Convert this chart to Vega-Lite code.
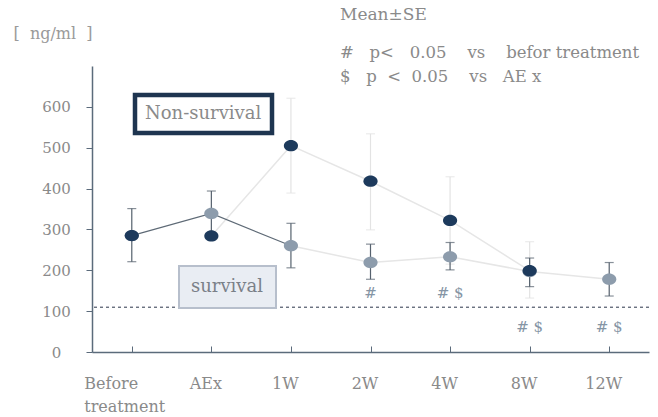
{
  "$schema": "https://vega.github.io/schema/vega-lite/v6.json",
  "width": 557,
  "height": 286,
  "autosize": {"type": "none"},
  "padding": {"left": 92, "top": 66, "right": 9, "bottom": 65},
  "background": "white",
  "config": {
    "view": {"stroke": null},
    "font": "DejaVu Serif",
    "axis": {"grid": false}
  },
  "title": {
    "text": "Mean±SE",
    "subtitle": ["#\u00a0\u00a0\u00a0p<\u00a0\u00a0\u00a00.05\u00a0\u00a0\u00a0\u00a0vs\u00a0\u00a0\u00a0\u00a0befor\u00a0treatment", "$\u00a0\u00a0\u00a0p\u00a0\u00a0<\u00a0\u00a00.05\u00a0\u00a0\u00a0\u00a0vs\u00a0\u00a0\u00a0AE\u00a0x"],
    "anchor": "start",
    "frame": "group",
    "orient": "top",
    "offset": 0,
    "dx": 248,
    "dy": 61,
    "font": "DejaVu Serif",
    "fontSize": 17,
    "fontWeight": "normal",
    "color": "#8a8a8a",
    "subtitleFont": "DejaVu Serif",
    "subtitleFontSize": 16.5,
    "subtitleColor": "#8a8a8a",
    "subtitlePadding": 21,
    "subtitleLineHeight": 24
  },
  "datasets": {
    "series": [
      {"time": "Before treatment", "t": 0, "group": "survival", "mean": 285, "lo": 221, "hi": 351},
      {"time": "AEx", "t": 1, "group": "survival", "mean": 339, "lo": 284, "hi": 394},
      {"time": "1W", "t": 2, "group": "survival", "mean": 260, "lo": 206, "hi": 315},
      {"time": "2W", "t": 3, "group": "survival", "mean": 219, "lo": 178, "hi": 264},
      {"time": "4W", "t": 4, "group": "survival", "mean": 233, "lo": 201, "hi": 268},
      {"time": "8W", "t": 5, "group": "survival", "mean": 197, "lo": 160, "hi": 230},
      {"time": "12W", "t": 6, "group": "survival", "mean": 178, "lo": 137, "hi": 219},
      {"time": "Before treatment", "t": 0, "group": "Non-survival", "mean": 285, "lo": null, "hi": null},
      {"time": "AEx", "t": 1, "group": "Non-survival", "mean": 284, "lo": null, "hi": null},
      {"time": "1W", "t": 2, "group": "Non-survival", "mean": 505, "lo": 389, "hi": 621},
      {"time": "2W", "t": 3, "group": "Non-survival", "mean": 418, "lo": 299, "hi": 534},
      {"time": "4W", "t": 4, "group": "Non-survival", "mean": 322, "lo": 215, "hi": 429},
      {"time": "8W", "t": 5, "group": "Non-survival", "mean": 199, "lo": 132, "hi": 270}
    ],
    "sig": [
      {"time": "2W", "label": "#", "level": 144},
      {"time": "4W", "label": "#  $", "level": 144},
      {"time": "8W", "label": "#  $", "level": 62},
      {"time": "12W", "label": "#  $", "level": 62}
    ]
  },
  "data": {"name": "series"},
  "encoding": {
    "x": {
      "field": "time",
      "type": "ordinal",
      "scale": {"type": "point", "domain": ["Before treatment", "AEx", "1W", "2W", "4W", "8W", "12W"], "padding": 0.5},
      "axis": {
        "title": null,
        "domainColor": "#5b6b7b",
        "domainWidth": 1.5,
        "tickColor": "#5b6b7b",
        "tickSize": -6,
        "tickWidth": 1,
        "labelFont": "DejaVu Serif",
        "labelFontSize": 16,
        "labelColor": "#8a8a8a",
        "labelPadding": 29,
        "labelAngle": 0,
        "labelLineHeight": 23,
        "labelExpr": "datum.label == 'Before treatment' ? ['Before', 'treatment'] : datum.label",
        "labelAlign": {"condition": {"test": "datum.value == 'Before treatment'", "value": "left"}, "value": "center"},
        "labelOffset": {"condition": {"test": "datum.value == 'Before treatment'", "value": -48}, "value": -6}
      }
    }
  },
  "layer": [
    {
      "mark": {"type": "rule", "color": "#6b7580", "strokeDash": [3, 3], "strokeWidth": 1},
      "encoding": {
        "x": null,
        "y": {"datum": 109, "type": "quantitative"}
      }
    },
    {
      "transform": [{"filter": {"field": "group", "equal": "Non-survival"}}, {"filter": {"field": "t", "gte": 1}}],
      "mark": {"type": "line", "color": "#e6e6e6", "strokeWidth": 1.5},
      "encoding": {"y": {"field": "mean", "type": "quantitative"}, "order": {"field": "t"}}
    },
    {
      "transform": [{"filter": {"field": "group", "equal": "survival"}}, {"filter": {"field": "t", "gte": 2}}],
      "mark": {"type": "line", "color": "#e6e6e6", "strokeWidth": 1.5},
      "encoding": {"y": {"field": "mean", "type": "quantitative"}, "order": {"field": "t"}}
    },
    {
      "transform": [{"filter": {"field": "group", "equal": "survival"}}, {"filter": {"field": "t", "lte": 2}}],
      "mark": {"type": "line", "color": "#5e6a76", "strokeWidth": 1.2},
      "encoding": {"y": {"field": "mean", "type": "quantitative"}, "order": {"field": "t"}}
    },
    {
      "transform": [{"filter": {"field": "group", "equal": "Non-survival"}}],
      "mark": {"type": "rule", "color": "#e3e3e3", "strokeWidth": 1.2},
      "encoding": {"y": {"field": "lo", "type": "quantitative"}, "y2": {"field": "hi"}}
    },
    {
      "transform": [{"filter": {"field": "group", "equal": "Non-survival"}}],
      "mark": {"type": "tick", "color": "#e3e3e3", "thickness": 1.2, "size": 9},
      "encoding": {"y": {"field": "lo", "type": "quantitative"}}
    },
    {
      "transform": [{"filter": {"field": "group", "equal": "Non-survival"}}],
      "mark": {"type": "tick", "color": "#e3e3e3", "thickness": 1.2, "size": 9},
      "encoding": {"y": {"field": "hi", "type": "quantitative"}}
    },
    {
      "transform": [{"filter": {"field": "group", "equal": "survival"}}],
      "mark": {"type": "rule", "color": "#55616d", "strokeWidth": 1.2},
      "encoding": {"y": {"field": "lo", "type": "quantitative"}, "y2": {"field": "hi"}}
    },
    {
      "transform": [{"filter": {"field": "group", "equal": "survival"}}],
      "mark": {"type": "tick", "color": "#55616d", "thickness": 1.2, "size": 9},
      "encoding": {"y": {"field": "lo", "type": "quantitative"}}
    },
    {
      "transform": [{"filter": {"field": "group", "equal": "survival"}}],
      "mark": {"type": "tick", "color": "#55616d", "thickness": 1.2, "size": 9},
      "encoding": {"y": {"field": "hi", "type": "quantitative"}}
    },
    {
      "transform": [{"filter": {"field": "group", "equal": "survival"}}],
      "mark": {"type": "point", "filled": true, "opacity": 1, "size": 200, "shape": "M-1,0A1,0.8,0,1,1,1,0A1,0.8,0,1,1,-1,0Z"},
      "encoding": {
        "y": {"field": "mean", "type": "quantitative"},
        "fill": {
          "field": "group",
          "type": "nominal",
          "scale": {"domain": ["survival"], "range": ["#8d9cac"]},
          "legend": {
            "orient": "none",
            "legendX": 87,
            "legendY": 200,
            "title": null,
            "symbolSize": 0,
            "symbolOpacity": 0,
            "symbolStrokeWidth": 0,
            "labelOffset": -18,
            "labelFont": "DejaVu Serif",
            "labelFontSize": 18,
            "labelColor": "#7a8088",
            "padding": 12,
            "fillColor": "#e9edf3",
            "strokeColor": "#b7bfcc",
            "encode": {"legend": {"update": {"strokeWidth": {"value": 2}}}}
          }
        }
      }
    },
    {
      "transform": [{"filter": {"field": "group", "equal": "Non-survival"}}],
      "mark": {"type": "point", "filled": true, "opacity": 1, "size": 200, "shape": "M-1,0A1,0.8,0,1,1,1,0A1,0.8,0,1,1,-1,0Z"},
      "encoding": {
        "y": {
          "field": "mean",
          "type": "quantitative",
          "scale": {"domain": [0, 700]},
          "axis": {
            "values": [0, 100, 200, 300, 400, 500, 600],
            "title": "[\u00a0\u00a0ng/ml\u00a0\u00a0]",
            "titleAngle": 0,
            "titleAlign": "left",
            "titleBaseline": "middle",
            "titleX": -79,
            "titleY": -33,
            "titleFont": "DejaVu Serif",
            "titleFontSize": 16,
            "titleFontWeight": "normal",
            "titleColor": "#9a9a9a",
            "domainColor": "#5b6b7b",
            "domainWidth": 1.5,
            "tickColor": "#5b6b7b",
            "tickSize": 6,
            "labelAlign": "center",
            "labelPadding": 30,
            "labelFont": "DejaVu Serif",
            "labelFontSize": 15,
            "labelColor": "#8a8a8a"
          }
        },
        "color": {
          "field": "group",
          "type": "nominal",
          "scale": {"domain": ["Non-survival"], "range": ["#1d3a5c"]},
          "legend": {
            "orient": "none",
            "legendX": 43,
            "legendY": 29,
            "title": null,
            "symbolSize": 0,
            "symbolOpacity": 0,
            "symbolStrokeWidth": 0,
            "labelOffset": -18,
            "labelFont": "DejaVu Serif",
            "labelFontSize": 18,
            "labelColor": "#8a8a8a",
            "padding": 10,
            "fillColor": "white",
            "strokeColor": "#1e3550",
            "encode": {"legend": {"update": {"strokeWidth": {"value": 4.5}}}}
          }
        }
      }
    },
    {
      "data": {"name": "sig"},
      "mark": {"type": "text", "font": "DejaVu Serif", "fontSize": 15, "color": "#8595a5", "baseline": "middle"},
      "encoding": {
        "y": {"field": "level", "type": "quantitative"},
        "text": {"field": "label"}
      }
    }
  ]
}
